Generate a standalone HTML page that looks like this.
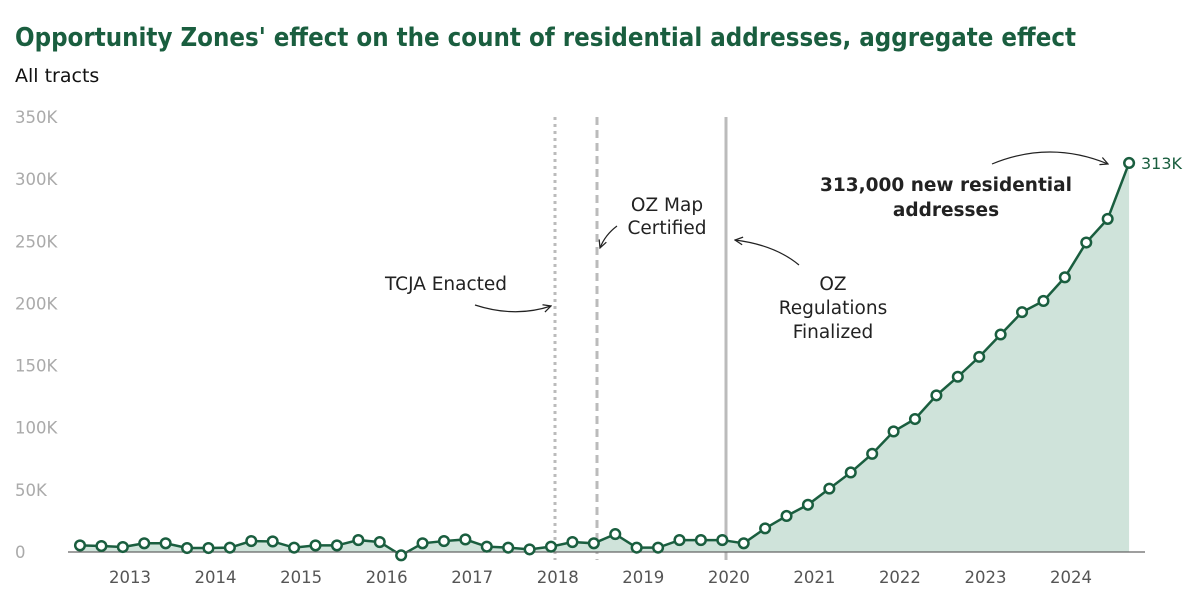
<!DOCTYPE html>
<html><head><meta charset="utf-8"><style>
html,body{margin:0;padding:0;background:#fff;width:1200px;height:600px;overflow:hidden}
svg{display:block;font-family:"DejaVu Sans","Liberation Sans",sans-serif}
</style></head><body>
<svg id="chart" width="1200" height="600">
<defs><marker id="ah" viewBox="0 0 10 10" refX="9" refY="5" markerWidth="8" markerHeight="8" orient="auto"><path d="M1,1 L9,5 L1,9" fill="none" stroke="#222" stroke-width="1.3"/></marker></defs>
<text x="15" y="46" font-size="26" font-weight="bold" fill="#1a5e3f" textLength="1061" lengthAdjust="spacingAndGlyphs">Opportunity Zones' effect on the count of residential addresses, aggregate effect</text>
<text x="15" y="82" font-size="19" fill="#111">All tracts</text>
<g id="yaxis"></g>
<g id="xaxis"></g>
<line x1="555" y1="117" x2="555" y2="560" stroke="#bbb" stroke-width="3" stroke-dasharray="3,4"/>
<line x1="597" y1="117" x2="597" y2="560" stroke="#bbb" stroke-width="3" stroke-dasharray="8,5"/>
<line x1="726" y1="117" x2="726" y2="560" stroke="#bbb" stroke-width="3"/>
<g id="series"></g>
<line x1="68" y1="552" x2="1145" y2="552" stroke="#666" stroke-width="1.2"/>
<g id="pts"></g>
<g font-size="18.5" fill="#222" text-anchor="middle">
<text x="446" y="290">TCJA Enacted</text>
<path d="M475,305 Q515,318 551,306" fill="none" stroke="#222" stroke-width="1.2" marker-end="url(#ah)"/>
<text x="667" y="211">OZ Map</text>
<text x="667" y="234">Certified</text>
<path d="M617,226 Q605,235 600,248" fill="none" stroke="#222" stroke-width="1.2" marker-end="url(#ah)"/>
<text x="833" y="290">OZ</text>
<text x="833" y="314">Regulations</text>
<text x="833" y="338">Finalized</text>
<path d="M799,265 Q775,245 735,240" fill="none" stroke="#222" stroke-width="1.2" marker-end="url(#ah)"/>
<text x="946" y="191" font-weight="bold">313,000 new residential</text>
<text x="946" y="216" font-weight="bold">addresses</text>
<path d="M992,164 Q1050,140 1108,164" fill="none" stroke="#222" stroke-width="1.2" marker-end="url(#ah)"/>
</g>
<text id="endlbl" x="1141" y="169" font-size="16" fill="#1a5e3f">313K</text>
</svg>
<script>
const yTicks=[0,50,100,150,200,250,300,350];
const yTickLabels=["0","50K","100K","150K","200K","250K","300K","350K"];
const xYears=["2013","2014","2015","2016","2017","2018","2019","2020","2021","2022","2023","2024"];
const values=[5.3,4.8,4,7,7,3.2,3.2,3.5,8.8,8.5,3.5,5.3,5.3,9.6,8,-2.7,7,8.8,10.1,4.3,3.5,2.1,4.3,8,7,14.4,3.5,3.5,9.6,9.6,9.6,7,19,29,38,51,64,79,97,107,126,141,157,175,193,202,221,249,268,313];
const NS="http://www.w3.org/2000/svg";
const y=v=>552-v*435/350;
const x=i=>80+i*21.41;
const yearX=k=>130+k*85.55;
function mk(t,a,p){const e=document.createElementNS(NS,t);for(const k in a)e.setAttribute(k,a[k]);p.appendChild(e);return e;}
const ya=document.getElementById('yaxis');
yTicks.forEach((v,i)=>{const t=mk('text',{x:15,y:y(v)+6,'font-size':16.5,fill:'#aaa'},ya);t.textContent=yTickLabels[i];

});
const xa=document.getElementById('xaxis');
xYears.forEach((s,k)=>{const t=mk('text',{x:yearX(k),y:583,'font-size':16.5,fill:'#555','text-anchor':'middle'},xa);t.textContent=s;

});
const sg=document.getElementById('series');
let d=values.map((v,i)=>(i?'L':'M')+x(i)+','+y(v)).join(' ');
const area=mk('path',{d:d+' L'+x(values.length-1)+',552 L'+x(0)+',552 Z',fill:'#cfe3da'},sg);


const line=mk('path',{d:d,fill:'none',stroke:'#1a5e3f','stroke-width':2.5},sg);


const pg=document.getElementById('pts');
values.forEach((v,i)=>{const c=mk('circle',{cx:x(i),cy:y(v),r:4.8,fill:'#fff',stroke:'#1a5e3f','stroke-width':2.5},pg);

});
document.getElementById('endlbl').setAttribute('y',y(values[values.length-1])+6);
</script>
</body></html>
